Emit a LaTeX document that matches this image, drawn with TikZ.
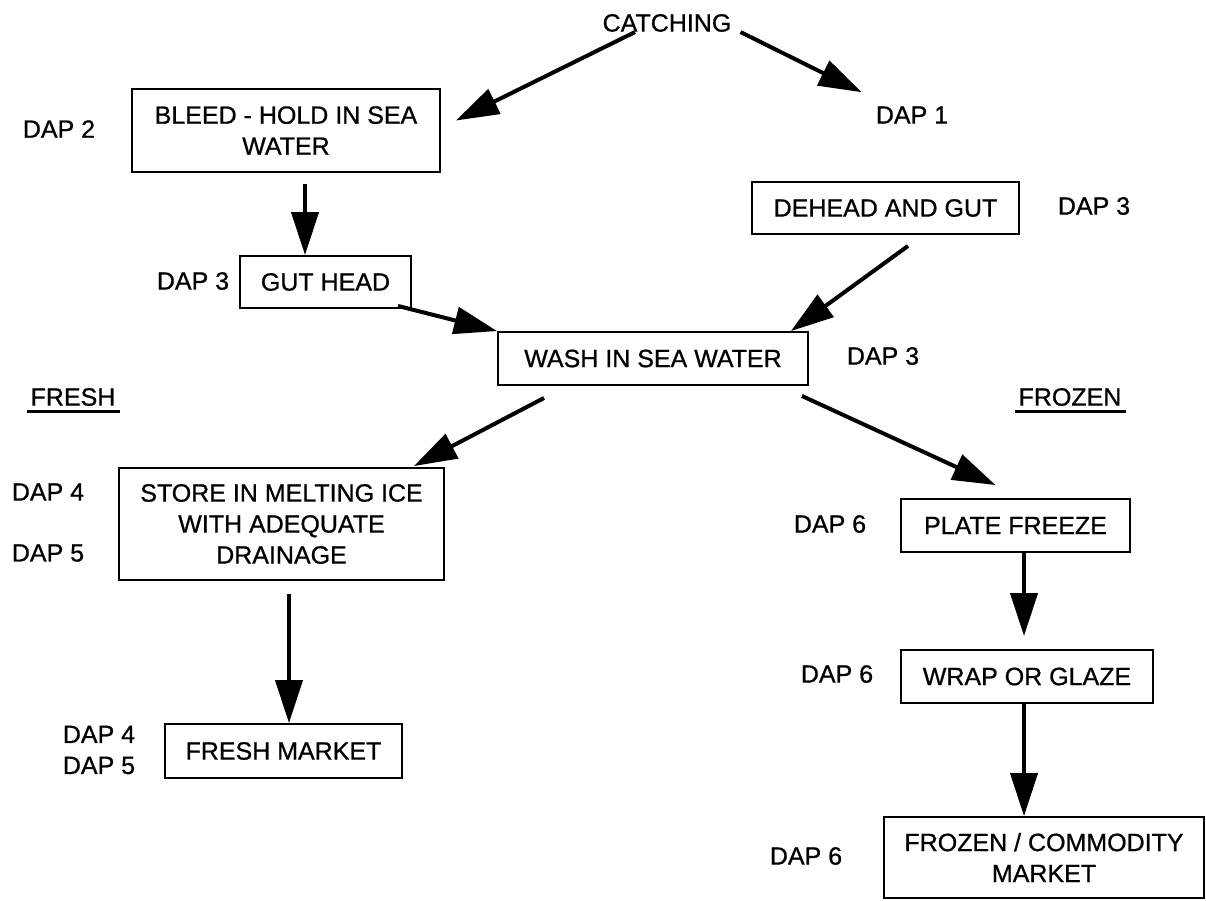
\documentclass[tikz,border=0pt]{standalone}
\usepackage{fontspec}
\setmainfont[FakeBold=0.8]{Liberation Sans}
\usetikzlibrary{arrows.meta}

\begin{document}
\begin{tikzpicture}[x=1pt,y=-1pt,
  every node/.style={font=\fontsize{25}{31}\selectfont},
  stepbox/.style={draw, line width=1.9pt, inner sep=0pt, align=center},
  lbl/.style={inner sep=0pt, align=center},
  flow/.style={line width=4pt, -{Triangle[length=43pt,width=27pt]}},
  uline/.style={line width=3pt}
]
% canvas
\fill[white] (0,0) rectangle (1206,900);
\path[use as bounding box] (0,0) rectangle (1206,900);

% process steps
\node[stepbox, minimum width=308pt, minimum height=83pt] (bleed) at (286,130.5) {BLEED - HOLD IN SEA\\WATER};
\node[stepbox, minimum width=171pt, minimum height=52pt] (gut) at (325.5,282) {GUT HEAD};
\node[stepbox, minimum width=267pt, minimum height=52pt] (dehead) at (885.5,208) {DEHEAD AND GUT};
\node[stepbox, minimum width=310pt, minimum height=53pt] (wash) at (653,358.5) {WASH IN SEA WATER};
\node[stepbox, minimum width=325pt, minimum height=112pt] (store) at (281.5,524) {STORE IN MELTING ICE\\WITH ADEQUATE\\DRAINAGE};
\node[stepbox, minimum width=229pt, minimum height=53pt] (plate) at (1015.5,525.5) {PLATE FREEZE};
\node[stepbox, minimum width=252pt, minimum height=53pt] (wrap) at (1027,676.5) {WRAP OR GLAZE};
\node[stepbox, minimum width=237pt, minimum height=54pt] (freshmkt) at (283.5,751) {FRESH MARKET};
\node[stepbox, minimum width=320pt, minimum height=81pt] (frozmkt) at (1044,857.5) {FROZEN / COMMODITY\\MARKET};

% plain labels
\node[lbl] (catch) at (667,23) {CATCHING};
\node[lbl] (dapone) at (912,115) {DAP 1};
\node[lbl] (daptwo) at (59,129) {DAP 2};
\node[lbl] (dapthreeA) at (193,281) {DAP 3};
\node[lbl] (dapthreeB) at (1094,206) {DAP 3};
\node[lbl] (dapthreeC) at (883,356) {DAP 3};
\node[lbl] (dapfourA) at (48,492) {DAP 4};
\node[lbl] (dapfiveA) at (48,553) {DAP 5};
\node[lbl] (dapsixA) at (830,524) {DAP 6};
\node[lbl] (dapsixB) at (837,674) {DAP 6};
\node[lbl] (dapfourfive) at (99,750) {DAP 4\\DAP 5};
\node[lbl] (dapsixC) at (806,856) {DAP 6};

% section headings, underlined
\node[lbl] (fresh) at (73,397) {FRESH};
\node[lbl] (frozen) at (1070,397) {FROZEN};
\draw[uline] ([xshift=-3pt,yshift=-5.5pt]fresh.base west) -- ([xshift=4pt,yshift=-5.5pt]fresh.base east);
\draw[uline] ([xshift=-3pt,yshift=-5.5pt]frozen.base west) -- ([xshift=4pt,yshift=-5.5pt]frozen.base east);

% flow arrows
\draw[flow] ([xshift=-32pt]catch.south) -- ([xshift=15pt,yshift=10pt]bleed.east);
\draw[flow] ([xshift=9pt]catch.south east) -- ([xshift=-14pt,yshift=14pt]dapone.north west);
\draw[flow] ([xshift=19pt,yshift=-11pt]bleed.south) -- ([xshift=-20.5pt]gut.north);
\draw[flow] ([xshift=-14pt,yshift=3pt]gut.south east) -- (wash.north west);
\draw[flow] ([xshift=22.5pt,yshift=-11pt]dehead.south) -- ([xshift=-18pt]wash.north east);
\draw[flow] ([xshift=47pt,yshift=-12pt]wash.south west) -- ([xshift=-31pt,yshift=1pt]store.north east);
\draw[flow] ([xshift=-7pt,yshift=-10pt]wash.south east) -- ([xshift=-20pt,yshift=13pt]plate.north);
\draw[flow] ([xshift=7.5pt,yshift=-13pt]store.south) -- ([xshift=5.5pt]freshmkt.north);
\draw[flow] ([xshift=8.5pt]plate.south) -- ([xshift=-3pt,yshift=13pt]wrap.north);
\draw[flow] ([xshift=-3pt]wrap.south) -- ([xshift=-20pt]frozmkt.north);
\end{tikzpicture}
\end{document}
